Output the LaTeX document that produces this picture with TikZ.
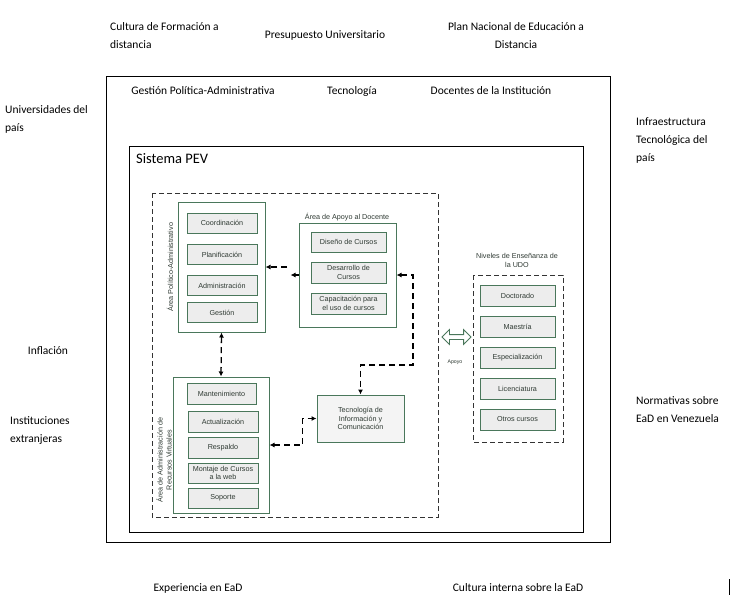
\documentclass[tikz,border=0pt]{standalone}
\usepackage{fontspec}
\setmainfont{Carlito}
\newfontfamily\arialfont{Liberation Sans}
\usepackage{xcolor}
\usetikzlibrary{shapes,shapes.arrows,arrows.meta,positioning,calc}

\definecolor{pevgreen}{HTML}{4A775B}
\definecolor{pevfill}{HTML}{EDEDED}
\definecolor{pevtext}{HTML}{2F3A33}

\tikzset{
    factor/.style={font=\fontsize{11.5}{18}\selectfont, inner sep=0pt, align=left},
    item/.style={draw=pevgreen, fill=pevfill, line width=1pt, minimum width=70, minimum height=20,
        inner sep=1pt, align=center, text=pevtext, font=\arialfont\fontsize{7.2}{8.5}\selectfont},
    areabox/.style={draw=pevgreen, line width=1pt, inner sep=0pt},
    arealabel/.style={text=pevtext, font=\arialfont\fontsize{7.2}{9}\selectfont, align=center, inner sep=0pt},
    groupbox/.style={draw=black!80, line width=0.9pt, dash pattern=on 5pt off 3pt},
    link/.style={draw=black, line width=1.3pt, dash pattern=on 6pt off 4pt, -{Latex[length=5pt,width=5pt]}},
    twolink/.style={link, {Latex[length=5pt,width=5pt]}-{Latex[length=5pt,width=5pt]}}
}

\begin{document}
\begin{tikzpicture}[x=1pt, y=-1pt]
    \useasboundingbox (0,0) rectangle (733,603);

    % factors around the system
    \node[factor, anchor=west] (cultura) at (110,36) {Cultura de Formación a\\distancia};
    \node[factor] (presupuesto) at (325,35) {Presupuesto Universitario};
    \node[factor, align=center] (plan) at (516,36) {Plan Nacional de Educación a\\Distancia};
    \node[factor, anchor=west] (universidades) at (5,119) {Universidades del\\país};
    \node[factor, anchor=west] (infra) at (636,140) {Infraestructura\\Tecnológica del\\país};
    \node[factor] (inflacion) at (48,351) {Inflación};
    \node[factor, anchor=west] (instituciones) at (10,431) {Instituciones\\extranjeras};
    \node[factor, anchor=west] (normativas) at (636,410) {Normativas sobre\\EaD en Venezuela};
    \node[factor] (experiencia) at (198,588) {Experiencia en EaD};
    \node[factor] (interna) at (518,588) {Cultura interna sobre la EaD};
    \draw[line width=0.9pt] (729,579) -- (729,595);

    % institution frame
    \draw[line width=0.9pt] (106,76) rectangle (610,542);
    \node[factor] (gestionpol) at (203,91) {Gestión Política-Administrativa};
    \node[factor] (tecnologia) at (352,91) {Tecnología};
    \node[factor] (docentes) at (491,91) {Docentes de la Institución};

    % Sistema PEV
    \draw[line width=0.9pt] (129,146) rectangle (583,532);
    \node[factor, anchor=west, font=\fontsize{14.5}{16}\selectfont] (sistema) at (136,159) {Sistema PEV};
    \draw[groupbox] (152,193) rectangle (438,517);

    % Area Politico-Administrativo
    \node[areabox, minimum width=87, minimum height=130] (politico) at (221.5,267) {};
    \node[arealabel, rotate=90] (politicolabel) at (170,267) {Área Político-Administrativo};
    \node[item] (coordinacion) at (222,223) {Coordinación};
    \node[item] (planificacion) at (222,254.5) {Planificación};
    \node[item] (administracion) at (222,285.5) {Administración};
    \node[item] (gestion) at (222,312.5) {Gestión};

    % Area de Apoyo al Docente
    \node[areabox, minimum width=97, minimum height=104] (apoyo) at (347.5,275) {};
    \node[arealabel] (apoyolabel) at (347,217) {Área de Apoyo al Docente};
    \node[item, minimum width=75] (diseno) at (348.5,242) {Diseño de Cursos};
    \node[item, minimum width=75, minimum height=21] (desarrollo) at (348.5,272.5) {Desarrollo de\\Cursos};
    \node[item, minimum width=75, minimum height=21] (capacitacion) at (348.5,303.5) {Capacitación para\\el uso de cursos};

    % Area de Administracion de Recursos Virtuales
    \node[areabox, minimum width=96, minimum height=136] (recursos) at (221,445) {};
    \node[arealabel, rotate=90] (recursoslabel) at (164,460) {Área de Administración de\\Recursos Virtuales};
    \node[item, minimum width=69, minimum height=21] (mantenimiento) at (221.5,393.5) {Mantenimiento};
    \node[item, minimum height=21] (actualizacion) at (223,421.5) {Actualización};
    \node[item, minimum height=21] (respaldo) at (223,447.5) {Respaldo};
    \node[item] (montaje) at (223,473) {Montaje de Cursos\\a la web};
    \node[item] (soporte) at (223,498) {Soporte};

    % TIC
    \node[item, fill=pevfill!60, minimum width=87, minimum height=47] (tic) at (360.5,418.5)
        {Tecnología de\\Información y\\Comunicación};

    % Niveles de Ensenanza
    \draw[groupbox] (473,275) rectangle (563,442);
    \node[arealabel] (niveleslabel) at (517,260) {Niveles de Enseñanza de\\la UDO};
    \foreach \name/\txt [count=\i from 0] in {doctorado/Doctorado, maestria/Maestría,
        especializacion/Especialización, licenciatura/Licenciatura, otros/Otros cursos} {
        \node[item, minimum width=75, minimum height=21] (\name) at (517.5,295.5+31*\i) {\txt};
    }

    % Apoyo
    \node[double arrow, draw=pevgreen, fill=white, line width=0.8pt, inner sep=2pt,
        double arrow head extend=5pt, double arrow head indent=0pt, minimum height=29] (apoyoarrow) at (456.5,337) {};
    \node[arealabel, font=\arialfont\fontsize{5.2}{6}\selectfont] (apoyotext) at (455,362) {Apoyo};

    % connectors
    \coordinate (pa) at (287,267);
    \draw[link] (pa) -- (politico.east);
    \draw[link] (apoyo.west) -- ++(-8,0);
    \draw[twolink] (politico.south) -- (recursos.north);
    \draw[twolink] (apoyo.east) -| (413,365) -| (tic.north);
    \draw[twolink] (recursos.east) -- ++(33,0) |- (tic.west);
\end{tikzpicture}
\end{document}
